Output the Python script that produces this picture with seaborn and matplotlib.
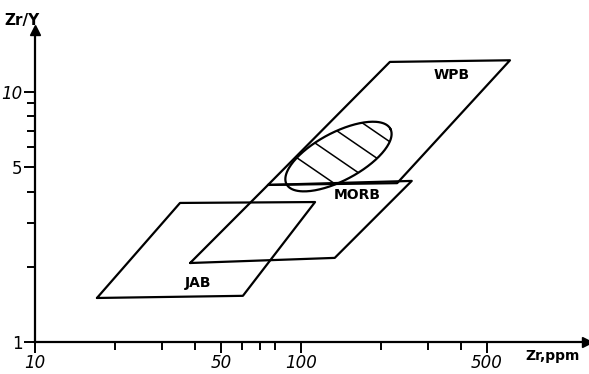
import matplotlib.pyplot as plt
import seaborn as sns
import numpy as np
from matplotlib.patches import Polygon

# field outlines (Zr ppm, Zr/Y)
jab_zr = [17.1, 60.5, 113, 35.1, 17.1]
jab_ratio = [1.50, 1.53, 3.63, 3.60, 1.50]
morb_zr = [38.3, 134, 261, 75.2, 38.3]
morb_ratio = [2.07, 2.17, 4.41, 4.25, 2.07]
wpb_zr = [75.2, 230, 611, 216, 75.2]
wpb_ratio = [4.25, 4.32, 13.4, 13.2, 4.25]

# hatched ellipse: centre, half axes in log10 units
ell_zr = 138.4
ell_ratio = 5.52
ell_major = (0.1952, 0.1108)
ell_minor = (-0.0424, 0.0845)
hatch_at = [-0.47, -0.04, 0.39, 0.79]

x_major = [10, 50, 100, 500]
x_minor = [20, 30, 40, 60, 70, 80, 200, 300, 400]
y_major = [1, 5, 10]
y_minor = [2, 3, 4, 6, 7, 8, 9]

sns.set_style("white")
plt.rcParams['font.family'] = ['DejaVu Sans']
plt.rcParams['text.color'] = 'k'

fig = plt.figure(figsize=(5.89, 3.74), dpi=100)
ax = fig.add_axes([0.0594, 0.0856, 0.937, 0.834])
ax.set_xscale("log")
ax.set_yscale("log")
ax.set_xlim(10, 1189)
ax.set_ylim(1, 17.7)

for xs, ys in [(jab_zr, jab_ratio), (morb_zr, morb_ratio), (wpb_zr, wpb_ratio)]:
    sns.lineplot(x=xs, y=ys, sort=False, estimator=None, color="k", lw=1.6, ax=ax)

# ellipse outline
t = np.linspace(0, 2 * np.pi, 200)
cx, cy = np.log10(ell_zr), np.log10(ell_ratio)
lx = cx + np.cos(t) * ell_major[0] + np.sin(t) * ell_minor[0]
ly = cy + np.cos(t) * ell_major[1] + np.sin(t) * ell_minor[1]
sns.lineplot(x=10 ** lx, y=10 ** ly, sort=False, estimator=None, color="k", lw=1.6, ax=ax)
clip = Polygon(np.column_stack([10 ** lx, 10 ** ly]), closed=True, fc="none", ec="none", transform=ax.transData)
ax.add_patch(clip)
hd = np.array([0.1316, -0.096])
for u in hatch_at:
    px = cx + u * ell_major[0]
    py = cy + u * ell_major[1]
    seg_x = 10 ** np.array([px - 1.5 * hd[0], px + 1.5 * hd[0]])
    seg_y = 10 ** np.array([py - 1.5 * hd[1], py + 1.5 * hd[1]])
    ln, = ax.plot(seg_x, seg_y, color="k", lw=1.1)
    ln.set_clip_path(clip)

lab = dict(fontsize=10, fontweight="bold", ha="center", va="center")
ax.text(370, 11.7, "WPB", **lab)
ax.text(163, 3.87, "MORB", **lab)
ax.text(41, 1.72, "JAB", **lab)

# axes with arrows
sns.despine(ax=ax)
for s in ["left", "bottom"]:
    ax.spines[s].set_linewidth(1.6)
    ax.spines[s].set_color("k")
ax.plot(1, 0, ">k", ms=7, transform=ax.transAxes, clip_on=False)
ax.plot(0, 1, "^k", ms=7, transform=ax.transAxes, clip_on=False)

ax.set_xticks(x_major)
ax.set_xticklabels([str(v) for v in x_major], fontstyle="italic", fontsize=12)
ax.set_xticks(x_minor, minor=True)
ax.set_xticklabels([], minor=True)
ax.set_yticks(y_major)
ax.set_yticklabels(["1", "5", "10"], fontsize=12)
ax.get_yticklabels()[2].set_fontstyle("italic")
ax.set_yticks(y_minor, minor=True)
ax.set_yticklabels([], minor=True)
ax.tick_params(which="both", direction="out", color="k", width=1.4,
               bottom=True, left=True, labelcolor="k")
ax.tick_params(which="major", length=8, pad=1)
ax.tick_params(which="minor", length=6)

fig.text(22 / 589, 1 - 20 / 374, "Zr/Y", fontsize=11, fontweight="bold", ha="center", va="center")
fig.text(553 / 589, 1 - 356 / 374, "Zr,ppm", fontsize=10, fontweight="bold", ha="center", va="center")

fig.savefig("out.png", dpi=100)
